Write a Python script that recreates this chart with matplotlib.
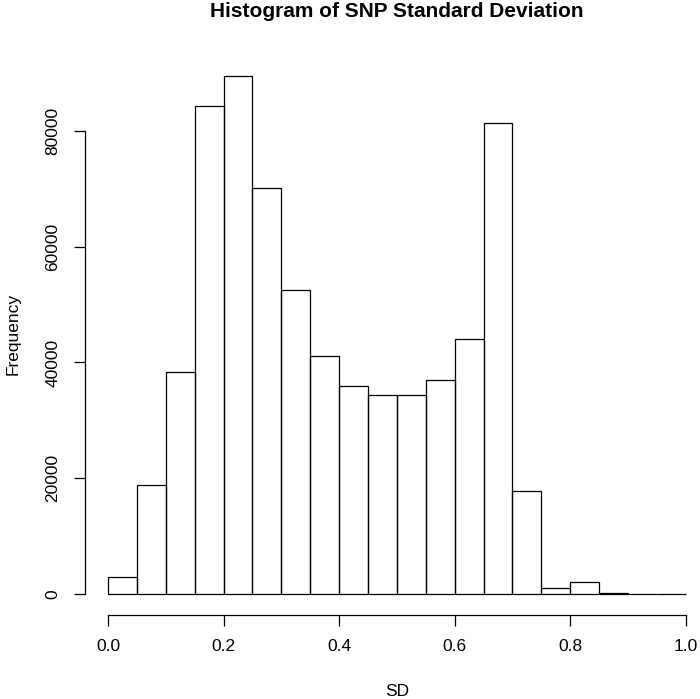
import matplotlib
matplotlib.use("Agg")
import matplotlib.pyplot as plt
import numpy as np

# Histogram bins (SD) and counts
bin_edges = [0.00, 0.05, 0.10, 0.15, 0.20, 0.25, 0.30, 0.35, 0.40, 0.45, 0.50,
             0.55, 0.60, 0.65, 0.70, 0.75, 0.80, 0.85, 0.90, 0.95, 1.00]
counts = [3000, 18800, 38300, 84400, 89500, 70200, 52500, 41200, 36000, 34400,
          34300, 37000, 44100, 81300, 17800, 1050, 2000, 200, 0, 0]
x_ticks = [0.0, 0.2, 0.4, 0.6, 0.8, 1.0]
x_tick_labels = ["0.0", "0.2", "0.4", "0.6", "0.8", "1.0"]
y_ticks = [0, 20000, 40000, 60000, 80000]
y_tick_labels = ["0", "20000", "40000", "60000", "80000"]
title = "Histogram of SNP Standard Deviation"
xlabel = "SD"
ylabel = "Frequency"

plt.rcParams['font.family'] = ['Liberation Sans', 'DejaVu Sans']

W, H = 700, 699
fig = plt.figure(figsize=(W / 100, H / 100), dpi=100)
fig.patch.set_facecolor("white")

# plot region in pixels (from top-left)
left_px, right_px = 84.9, 708.9
top_px, bottom_px = 55.3, 614.7
ax = fig.add_axes([left_px / W, 1 - bottom_px / H,
                   (right_px - left_px) / W, (bottom_px - top_px) / H])
ax.set_facecolor("white")

edges = np.array(bin_edges)
widths = np.diff(edges)
ax.bar(edges[:-1], counts, width=widths, align="edge", fill=False,
       edgecolor="black", linewidth=0.9)

x0, x1 = edges[0], edges[-1]
xr = x1 - x0
ax.set_xlim(x0 - 0.04 * xr, x1 + 0.04 * xr)
ymax = max(counts)
ax.set_ylim(-0.04 * ymax, 1.04 * ymax)

for s in ["top", "right"]:
    ax.spines[s].set_visible(False)
ax.spines["bottom"].set_bounds(x_ticks[0], x_ticks[-1])
ax.spines["left"].set_bounds(y_ticks[0], y_ticks[-1])
for s in ["bottom", "left"]:
    ax.spines[s].set_linewidth(0.9)

ax.set_xticks(x_ticks)
ax.set_xticklabels(x_tick_labels)
ax.set_yticks(y_ticks)
ax.set_yticklabels(y_tick_labels, rotation=90, va="center")
ax.tick_params(axis="both", direction="out", length=7.8, width=0.9,
               labelsize=12.5, colors="black")
ax.tick_params(axis="x", pad=9.5)
ax.tick_params(axis="y", pad=10)

fig.text(397 / W, 1 - 16.7 / H, title, ha="center", va="baseline",
         fontsize=15, fontweight="bold")
fig.text(397 / W, 1 - 696.5 / H, xlabel, ha="center", va="baseline",
         fontsize=12.5)
fig.text(17.5 / W, 1 - 333.5 / H, ylabel, ha="center", va="baseline",
         rotation=90, rotation_mode="anchor", fontsize=12.5)

fig.savefig("out.png", dpi=100, facecolor="white")
